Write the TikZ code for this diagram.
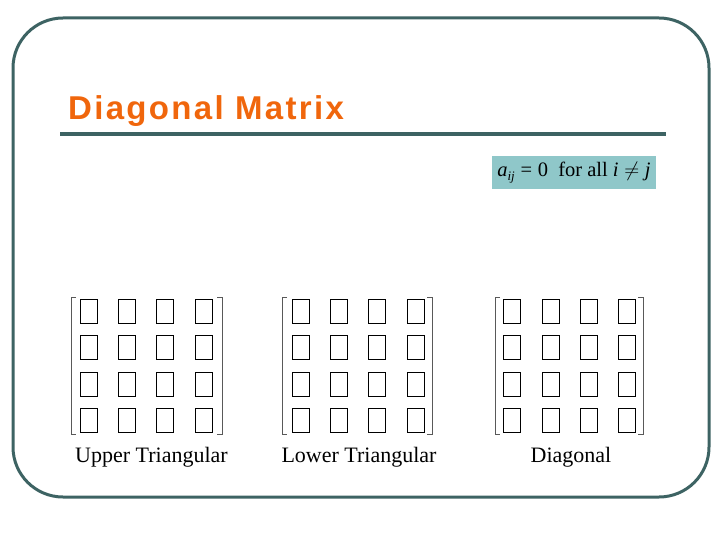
\documentclass[tikz,border=0pt]{standalone}
\usepackage{fontspec}
\setmainfont{Liberation Serif}
\newfontfamily\titlefont[LetterSpace=7]{Liberation Sans}
\definecolor{frame}{RGB}{61,99,99}
\definecolor{titleorange}{RGB}{240,102,12}
\definecolor{formulabg}{RGB}{143,199,201}
\tikzset{
  cell/.style={draw=black, line width=1pt, minimum width=17pt, minimum height=24pt, inner sep=0pt},
  brk/.style={draw=black!65, line width=0.9pt},
  lbl/.style={font=\fontsize{22}{24}\selectfont, anchor=base, inner sep=0pt}
}
\begin{document}
\begin{tikzpicture}[x=1pt,y=-1pt]
\useasboundingbox (0,0) rectangle (720,540);
\draw[frame, line width=3pt, rounded corners=50pt] (13,18) rectangle (709,497);
\node[anchor=base west, inner sep=0pt, text=titleorange, font=\titlefont\bfseries\fontsize{33}{35}\selectfont] (title) at (68,119.5) {Diagonal Matrix};
\draw[frame, line width=3.5pt] (60,134) -- (666,134);
\node[fill=formulabg, minimum width=164pt, minimum height=33pt, inner sep=0pt, font=\fontsize{20.5}{23}\selectfont] (formula) at (574,172.5) {\textit{a}\raisebox{-0.45ex}{\fontsize{13}{14}\selectfont\textit{ij}}\;=\;0\enspace for all \textit{i}\;$\neq$\;\textit{j}};
% matrices
\foreach \name/\xa/\xb/\xc/\xd/\bl/\br in {U/88.5/126.5/165/203.5/71/222, L/300.5/338.5/376.5/415.5/282/432, D/511.5/550.5/588.5/626.5/495/643}{
  \foreach \yy [count=\r] in {311,347.5,384,420.5}{
    \node[cell] (\name-\r-1) at (\xa,\yy) {};
    \node[cell] (\name-\r-2) at (\xb,\yy) {};
    \node[cell] (\name-\r-3) at (\xc,\yy) {};
    \node[cell] (\name-\r-4) at (\xd,\yy) {};
  }
  \draw[brk] (\bl+5,297) -- (\bl,297) -- (\bl,434) -- (\bl+5,434);
  \draw[brk] (\br-5,297) -- (\br,297) -- (\br,434) -- (\br-5,434);
}
\node[lbl] (lu) at (151.5,462) {Upper Triangular};
\node[lbl] (ll) at (359,462) {Lower Triangular};
\node[lbl] (ld) at (571,462) {Diagonal};
\end{tikzpicture}
\end{document}
